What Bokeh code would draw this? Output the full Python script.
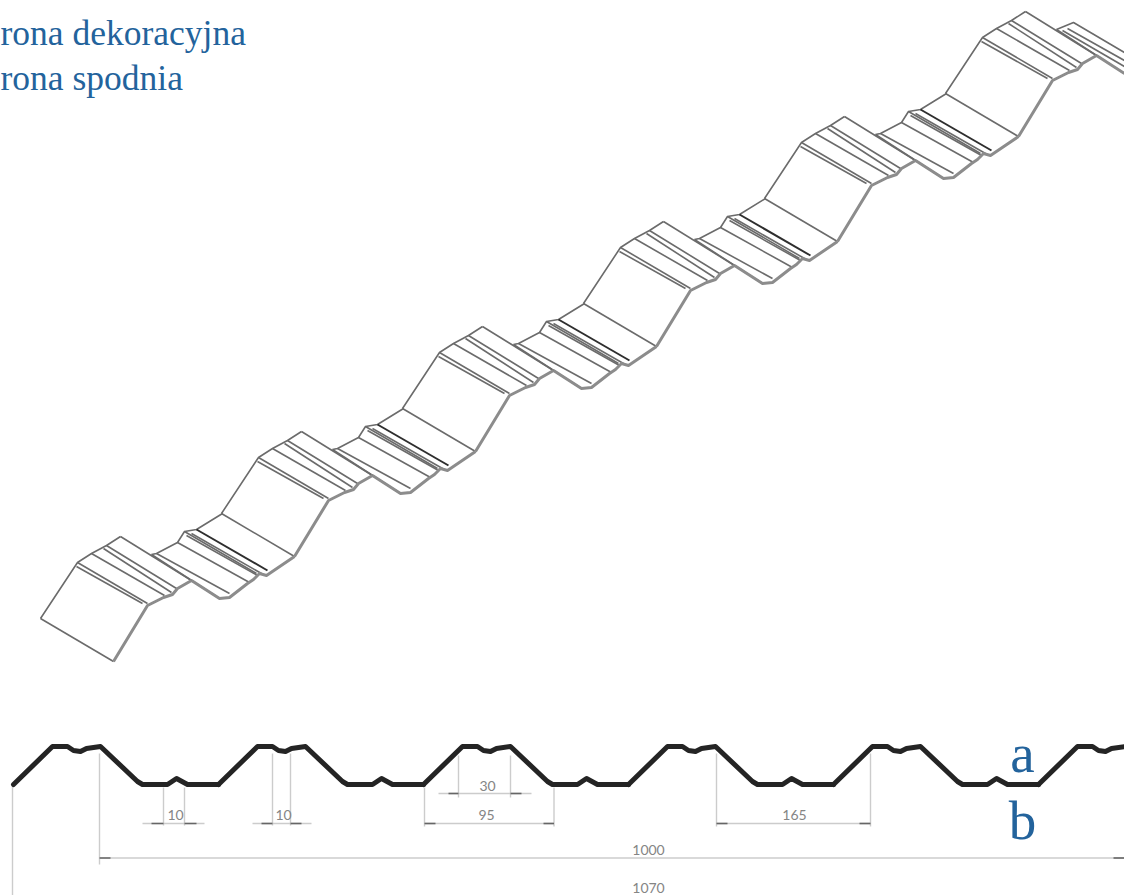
from bokeh.plotting import figure
from bokeh.embed import file_html
from bokeh.resources import INLINE
from bokeh.core.properties import value

# ---- sheet in perspective: one repeating module (reference pixel coordinates)
MODULE_COUNT = 6
MODULE_STEP_X = 181
MODULE_STEP_Y = -105

thin_x = [[40, 113], [40, 77, 91, 106, 120], [77, 147], [76, 142], [91, 164], [106, 176], [103, 171], [120, 191]]
thin_y = [[618, 661], [618, 562, 553, 545, 536], [562, 603], [566, 603], [553, 595], [545, 588], [548, 592], [536, 580]]
front_x = [[113, 147, 163, 172, 177, 191]]
front_y = [[661, 605, 597, 594, 588, 580]]
valley_x = [[151, 156, 177, 184, 196, 222], [156, 229], [177, 249], [184, 256], [186, 257], [191, 261]]
valley_y = [[554, 553, 542, 531, 529, 513], [553, 593], [542, 582], [531, 573], [535, 575], [533, 573]]
valley_dark_x = [[196, 267]]
valley_dark_y = [[529, 570]]
valley_low_x = [[151, 219]]
valley_low_y = [[554, 598]]
front_low_x = [[191, 219, 229, 247, 253, 259, 266, 294]]
front_low_y = [[580, 598, 597, 583, 579, 573, 575, 556]]
# last, cut-off module at the top right
end_x = [[1056, 1073, 1124], [1062, 1124], [1067, 1124], [1056, 1124]]
end_y = [[29, 22, 52], [30, 66], [28, 60], [29, 73]]
end_front_x = [[1096, 1124]]
end_front_y = [[55, 73]]

# ---- cross-section profile: one repeating rib
PROFILE_COUNT = 6
PROFILE_STEP = 205
profile_x = [13, 52, 67, 73, 80, 86, 100, 137, 142, 167, 176, 187, 218]
profile_y = [784, 746, 746, 750, 751, 748, 746, 781, 784, 784, 778, 784, 784]

# ---- dimension lines
dim_x = [[12, 12], [99, 99], [99, 1124], [163, 163], [184, 184], [142, 204], [272, 272], [290, 290], [252, 311],
         [458, 458], [510, 510], [438, 531], [424, 424], [553.5, 553.5], [424, 553.5], [716, 716], [870, 870], [716, 870]]
dim_y = [[784, 895], [753, 864], [857.5, 857.5], [787, 825], [787, 825], [823, 823], [753, 825], [753, 825], [823, 823],
         [755, 797], [755, 797], [793, 793], [787, 826], [787, 826], [823, 823], [753, 826], [753, 826], [823, 823]]
arrow_x = [[151, 163], [184, 196], [261, 272], [290, 301], [448, 458], [510, 521], [424, 435], [543, 553.5],
           [716, 727], [859, 870], [99, 110], [1113, 1124]]
arrow_y = [[823, 823]] * 4 + [[793, 793]] * 2 + [[823, 823]] * 4 + [[857.5, 857.5]] * 2

dim_labels = ["10", "10", "30", "95", "165", "1000", "1070"]
dim_label_x = [175, 283, 487, 486, 794, 648, 648]
dim_label_y = [814, 814, 785, 814, 814, 849, 887]

title_labels = ["rona dekoracyjna", "rona spodnia"]
title_x = [0, 0]
title_y = [32, 77]
side_labels = ["a", "b"]
side_x = [1022, 1022]
side_y = [753, 820]


def repeat(xs, ys, count, dx, dy):
    out_x, out_y = [], []
    for k in range(count):
        for lx, ly in zip(xs, ys):
            out_x.append([v + k * dx for v in lx])
            out_y.append([v + k * dy for v in ly])
    return out_x, out_y


p = figure(width=1124, height=895, x_range=(0, 1124), y_range=(895, 0),
           output_backend="svg", toolbar_location=None,
           min_border=0, outline_line_color=None, background_fill_color="white", border_fill_color="white")
p.axis.visible = False
p.grid.visible = False

GREY = "#6b6b6b"
mx, my = repeat(thin_x, thin_y, MODULE_COUNT, MODULE_STEP_X, MODULE_STEP_Y)
p.multi_line(mx, my, line_color=GREY, line_width=1.6, line_join="round")
vx, vy = repeat(valley_x, valley_y, MODULE_COUNT - 1, MODULE_STEP_X, MODULE_STEP_Y)
p.multi_line(vx, vy, line_color=GREY, line_width=1.6, line_join="round")
lx, ly = repeat(valley_low_x, valley_low_y, MODULE_COUNT - 1, MODULE_STEP_X, MODULE_STEP_Y)
p.multi_line(lx, ly, line_color=GREY, line_width=1.6)
dx, dy = repeat(valley_dark_x, valley_dark_y, MODULE_COUNT - 1, MODULE_STEP_X, MODULE_STEP_Y)
p.multi_line(dx, dy, line_color="#2e2e2e", line_width=2)
p.multi_line(end_x, end_y, line_color=GREY, line_width=1.6, line_join="round")

fx, fy = repeat(front_x, front_y, MODULE_COUNT, MODULE_STEP_X, MODULE_STEP_Y)
p.multi_line(fx, fy, line_color="#8c8c8c", line_width=3, line_join="round")
flx, fly = repeat(front_low_x, front_low_y, MODULE_COUNT - 1, MODULE_STEP_X, MODULE_STEP_Y)
p.multi_line(flx, fly, line_color="#8c8c8c", line_width=3, line_join="round")
p.multi_line(end_front_x, end_front_y, line_color="#8c8c8c", line_width=3)

p.multi_line(dim_x, dim_y, line_color="#cccccc", line_width=1.4)
p.multi_line(arrow_x, arrow_y, line_color="#666666", line_width=1.6)

sx, sy = repeat([profile_x], [profile_y], PROFILE_COUNT, PROFILE_STEP, 0)
p.multi_line(sx, sy, line_color="#242424", line_width=5, line_join="round", line_cap="round")

p.text(dim_label_x, dim_label_y, text=dim_labels, text_font=value("Lato"), text_font_size="14px",
       text_color="#858585", text_align="center", text_baseline="middle")
p.text(title_x, title_y, text=title_labels, text_font=value("Liberation Serif"), text_font_size="35.5px",
       text_color="#23639c", text_align="left", text_baseline="alphabetic")
p.text(side_x, side_y, text=side_labels, text_font=value("Liberation Serif"), text_font_size="55px",
       text_color="#23639c", text_align="center", text_baseline="alphabetic")

open("out.html", "w").write(file_html(p, INLINE))
